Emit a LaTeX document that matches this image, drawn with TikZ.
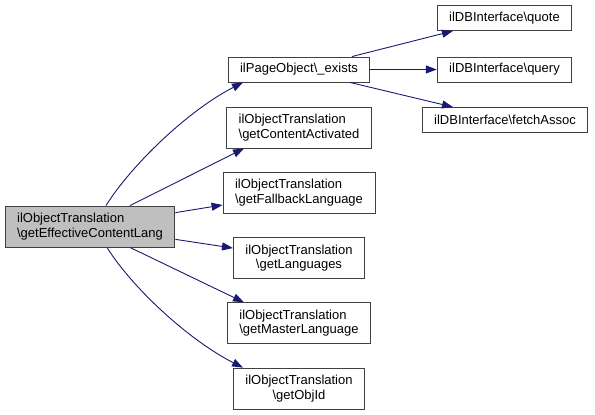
\documentclass[tikz,border=0pt]{standalone}
\usepackage{fontspec}
\setmainfont{Liberation Sans}
\usetikzlibrary{arrows.meta}
\definecolor{edgeblue}{HTML}{191970}
\definecolor{rootgray}{HTML}{BFBFBF}
\definecolor{boxline}{HTML}{404040}
\begin{document}
\begin{tikzpicture}[x=1pt,y=1pt,
  box/.style={draw=boxline, line width=0.9pt, fill=white, inner xsep=12pt, inner ysep=0pt,
    font=\fontsize{13}{14.5}\selectfont},
  one/.style={box, minimum height=25pt},
  two/.style={box, minimum height=41pt},
  call/.style={draw=edgeblue, line width=0.9pt, -{Triangle[length=11pt,width=8pt]}}
]
\useasboundingbox (0,0) rectangle (595,-415);

\node[two, fill=rootgray, align=left] (root) at (90,-226.5) {ilObjectTranslation\\\textbackslash getEffectiveContentLang};

\node[one] (pe) at (299,-69.5) {ilPageObject\textbackslash\_exists};
\node[two, align=left] (ca) at (299,-127.5) {ilObjectTranslation\\\textbackslash getContentActivated};
\node[two, align=left] (fb) at (299,-192.6) {ilObjectTranslation\\\textbackslash getFallbackLanguage};
\node[two, align=center] (lang) at (299,-258) {ilObjectTranslation\\\textbackslash getLanguages};
\node[two, align=left] (master) at (299,-323.3) {ilObjectTranslation\\\textbackslash getMasterLanguage};
\node[two, align=center] (objid) at (299,-388.6) {ilObjectTranslation\\\textbackslash getObjId};

\node[one] (quote) at (504.5,-18) {ilDBInterface\textbackslash quote};
\node[one] (query) at (504.5,-69.5) {ilDBInterface\textbackslash query};
\node[one] (fa) at (505,-120) {ilDBInterface\textbackslash fetchAssoc};

\draw[call] ([xshift=16pt]root.north) .. controls +(25,40) and +(-55,-28) .. ([xshift=-56pt]pe.south);
\draw[call] ([xshift=40pt]root.north) -- ([xshift=-55pt]ca.south);
\draw[call] (root) -- (fb);
\draw[call] (root) -- (lang);
\draw[call] ([xshift=40pt]root.south) -- ([xshift=-55pt]master.north);
\draw[call] ([xshift=17pt]root.south) .. controls +(25,-40) and +(-55,28) .. ([xshift=-56pt]objid.north);

\draw[call] ([xshift=53pt]pe.north) -- ([xshift=-51.5pt]quote.south);
\draw[call] (pe) -- (query);
\draw[call] ([xshift=51pt]pe.south) -- ([xshift=-52pt]fa.north);
\end{tikzpicture}
\end{document}
